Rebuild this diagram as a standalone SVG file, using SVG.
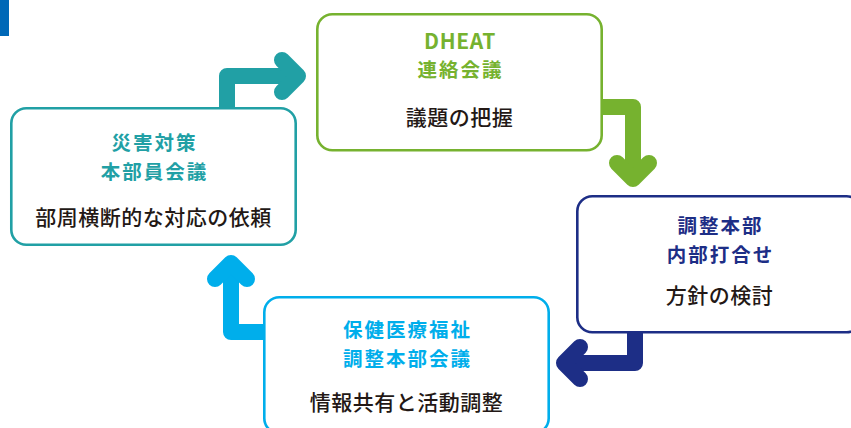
<svg xmlns="http://www.w3.org/2000/svg" width="851" height="428" viewBox="0 0 851 428">
<style>
.box{fill:#fff;stroke-width:2.6}
.t{font-family:"Noto Sans CJK JP","Noto Sans",sans-serif;font-size:19.5px;font-weight:700;text-anchor:middle;letter-spacing:2px}
.b{font-family:"Noto Sans CJK JP","Noto Sans",sans-serif;font-size:21px;font-weight:500;text-anchor:middle;fill:#231815;letter-spacing:0.5px}
.arr{fill:none;stroke-width:16;stroke-linejoin:round;stroke-linecap:round}
</style>
<rect x="0" y="0" width="9" height="36" fill="#0068B7"/>
<g id="connectors">
<g id="c-teal" stroke="#21A0A5" class="arr">
<path d="M227,108 V76 H294" stroke-linecap="butt"/>
<path d="M282,60 L298,76 L282,92"/>
</g>
<g id="c-green" stroke="#76B22F" class="arr">
<path d="M602,107 H633 V175" stroke-linecap="butt"/>
<path d="M617,163 L633,179 L649,163"/>
</g>
<g id="c-navy" stroke="#1D2E86" class="arr">
<path d="M635,332 V363 H568" stroke-linecap="butt"/>
<path d="M580,347 L564,363 L580,379"/>
</g>
<g id="c-cyan" stroke="#00AEEB" class="arr">
<path d="M264,332 H231 V267" stroke-linecap="butt"/>
<path d="M215,279 L231,263 L247,279"/>
</g>
</g>
<g id="node-saigai">
<rect class="box" x="11.3" y="108.3" width="284.4" height="136.4" rx="15" stroke="#21A0A5"/>
<text class="t" fill="#21A0A5"><tspan x="154.5" y="150.2">災害対策</tspan><tspan x="154.5" y="178.8">本部員会議</tspan></text>
<text class="b" x="153.5" y="225">部周横断的な対応の依頼</text>
</g>
<g id="node-dheat">
<rect class="box" x="317.3" y="14.3" width="284.4" height="136" rx="15" stroke="#76B22F"/>
<text class="t" fill="#76B22F"><tspan x="460" y="48.7" font-size="21px" letter-spacing="0.6px">DHEAT</tspan><tspan x="460.5" y="77.3">連絡会議</tspan></text>
<text class="b" x="459.5" y="125">議題の把握</text>
</g>
<g id="node-chosei">
<rect class="box" x="577.3" y="196.3" width="284.4" height="136" rx="15" stroke="#1D2E86"/>
<text class="t" fill="#1D2E86"><tspan x="720.5" y="233.2">調整本部</tspan><tspan x="720.5" y="261.8">内部打合せ</tspan></text>
<text class="b" x="719.5" y="303">方針の検討</text>
</g>
<g id="node-hoken">
<rect class="box" x="264.3" y="297.3" width="284.4" height="136" rx="15" stroke="#00AEEB"/>
<text class="t" fill="#00AEEB"><tspan x="407.5" y="337.2">保健医療福祉</tspan><tspan x="407.5" y="365.8">調整本部会議</tspan></text>
<text class="b" x="406.5" y="410">情報共有と活動調整</text>
</g>
</svg>
